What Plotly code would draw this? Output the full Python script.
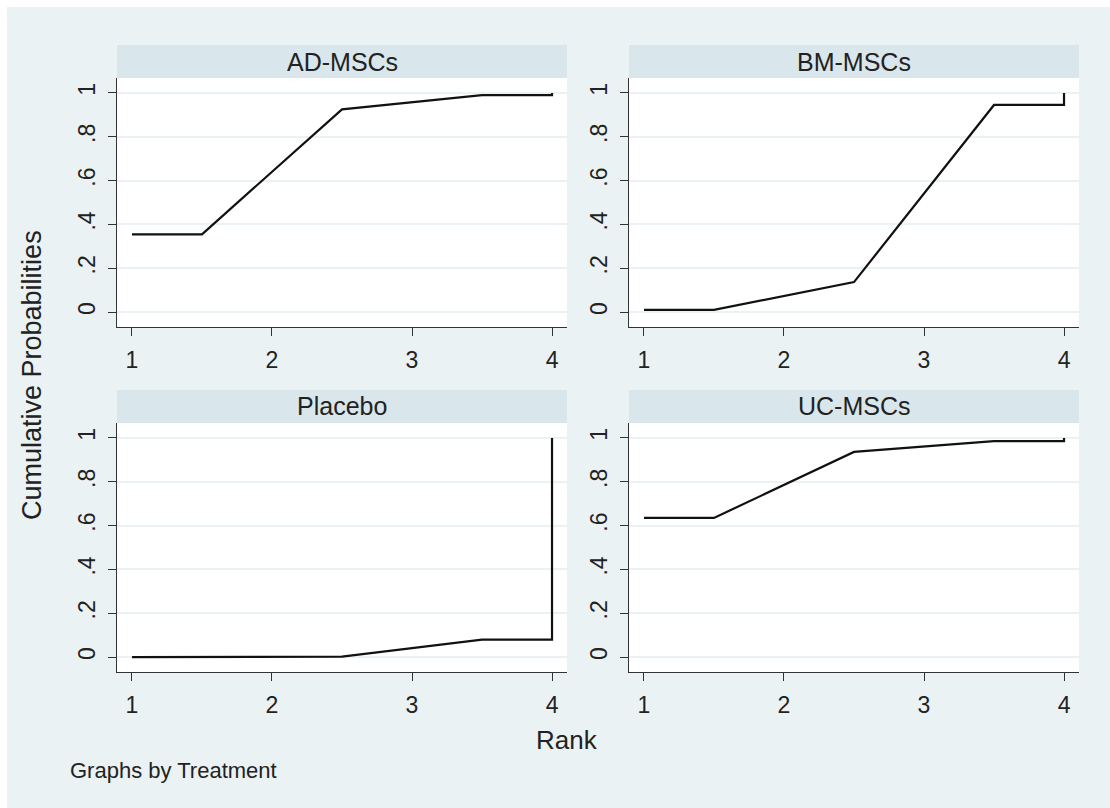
import plotly.graph_objects as go

# Cumulative ranking probabilities by treatment (ranks 1..4)
treatments = ["AD-MSCs", "BM-MSCs", "Placebo", "UC-MSCs"]
ranks = [1, 2, 3, 4]
cum_ad = [0.355, 0.925, 0.990, 1.0]
cum_bm = [0.010, 0.137, 0.945, 1.0]
cum_pl = [0.000, 0.002, 0.080, 1.0]
cum_uc = [0.635, 0.936, 0.985, 1.0]
cum_probs = [cum_ad, cum_bm, cum_pl, cum_uc]

# x positions of the step-line vertices (rank midpoints, closing at the last rank)
step_x = [1, 1.5, 2.5, 3.5, 4, 4]

y_tickvals = [0, 0.2, 0.4, 0.6, 0.8, 1]
y_ticktext = ["0", ".2", ".4", ".6", ".8", "1"]
x_tickvals = [1, 2, 3, 4]

W, H = 1110, 808
BG = "#EAF2F3"
STRIP = "#D9E6EB"
GRID = "#EAF2F3"
AXIS = "#333333"
TEXT = "#222222"
FONT = "Liberation Sans, Arial, sans-serif"

# panel rectangles in pixels: (left, top, right, bottom)
panels = [(117, 78, 567, 327), (629, 78, 1079, 327),
          (117, 423, 567, 672), (629, 423, 1079, 672)]
strip_h = 33


def px_x(v):
    return v / W


def px_y(v):
    return 1 - v / H


def step_path(c):
    return [c[0], c[0], c[1], c[2], c[2], c[3]]


fig = go.Figure()
shapes = []
annotations = []

for i, (name, cp) in enumerate(zip(treatments, cum_probs)):
    l, t, r, b = panels[i]
    k = "" if i == 0 else str(i + 1)
    fig.add_trace(go.Scatter(
        x=step_x, y=step_path(cp), mode="lines",
        line=dict(color="#111111", width=2.2),
        xaxis="x" + k, yaxis="y" + k, showlegend=False,
        hoverinfo="skip",
    ))
    axis_common = dict(
        showline=True, linecolor=AXIS, linewidth=1, mirror=False,
        ticks="outside", ticklen=8, tickwidth=1, tickcolor=AXIS,
        zeroline=False,
        tickfont=dict(family=FONT, size=23, color=TEXT),
    )
    fig.layout["xaxis" + k] = dict(
        domain=[px_x(l), px_x(r)], anchor="y" + k,
        range=[0.893, 4.107], tickvals=x_tickvals,
        showgrid=False, ticklabelstandoff=4, **axis_common,
    )
    fig.layout["yaxis" + k] = dict(
        domain=[px_y(b), px_y(t)], anchor="x" + k,
        range=[-0.068, 1.068], tickvals=y_tickvals, ticktext=y_ticktext,
        tickangle=-90, showgrid=True, gridcolor=GRID, gridwidth=2,
        ticklabelstandoff=4, **axis_common,
    )
    # strip header above each panel
    shapes.append(dict(type="rect", xref="paper", yref="paper",
                       x0=px_x(l), x1=px_x(r), y0=px_y(t), y1=px_y(t - strip_h),
                       fillcolor=STRIP, line=dict(width=0), layer="below"))
    annotations.append(dict(text=name, xref="paper", yref="paper",
                            x=px_x((l + r) / 2), y=px_y(t - strip_h / 2),
                            xanchor="center", yanchor="middle", showarrow=False,
                            font=dict(family=FONT, size=25, color=TEXT)))

# thin white border along the top and left edges
shapes.append(dict(type="rect", xref="paper", yref="paper", x0=0, x1=1,
                   y0=px_y(7), y1=1, fillcolor="white", line=dict(width=0),
                   layer="below"))
shapes.append(dict(type="rect", xref="paper", yref="paper", x0=0, x1=px_x(7),
                   y0=0, y1=1, fillcolor="white", line=dict(width=0),
                   layer="below"))

annotations.append(dict(text="Cumulative Probabilities", xref="paper", yref="paper",
                        x=px_x(32), y=px_y(375), textangle=-90,
                        xanchor="center", yanchor="middle", showarrow=False,
                        font=dict(family=FONT, size=27, color=TEXT)))
annotations.append(dict(text="Rank", xref="paper", yref="paper",
                        x=px_x(567), y=px_y(740),
                        xanchor="center", yanchor="middle", showarrow=False,
                        font=dict(family=FONT, size=26, color=TEXT)))
annotations.append(dict(text="Graphs by Treatment", xref="paper", yref="paper",
                        x=px_x(68), y=px_y(770),
                        xanchor="left", yanchor="middle", showarrow=False,
                        font=dict(family=FONT, size=22, color=TEXT)))

fig.update_layout(
    width=W, height=H,
    margin=dict(l=0, r=0, t=0, b=0),
    paper_bgcolor=BG, plot_bgcolor="white",
    shapes=shapes, annotations=annotations,
)

fig.write_html("out.html")
